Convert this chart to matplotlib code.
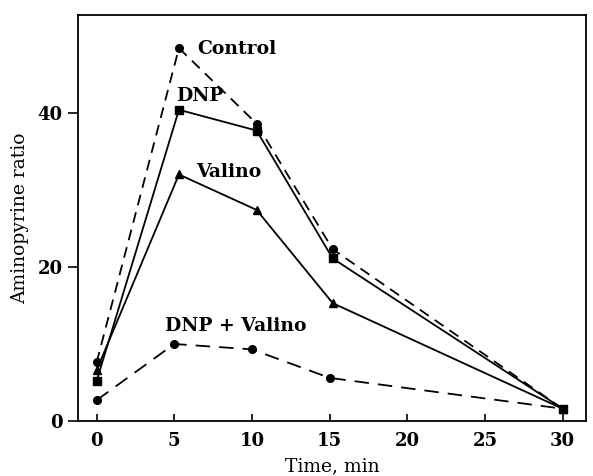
import matplotlib
matplotlib.use("Agg")
import matplotlib.pyplot as plt

# time points (min)
t_top = [0, 5.3, 10.3, 15.2, 30]
t_low = [0, 5, 10, 15, 30]

control = [7.6, 48.4, 38.6, 22.3, 1.6]
dnp = [5.2, 40.4, 37.7, 21.1, 1.6]
valino = [6.6, 32.0, 27.4, 15.3, 1.6]
dnp_valino = [2.7, 10.0, 9.3, 5.6, 1.6]

plt.rcParams['font.family'] = 'DejaVu Serif'

fig = plt.figure(figsize=(5.93, 4.76), dpi=100)
ax = fig.add_axes([0.1315, 0.1155, 0.8565, 0.853])

ax.plot(t_top, control, color='black', lw=1.3, ls=(0, (6, 4)),
        marker='o', ms=5.5)
ax.plot(t_top, dnp, color='black', lw=1.3, marker='s', ms=5.5)
ax.plot(t_top, valino, color='black', lw=1.3, marker='^', ms=5.5)
ax.plot(t_low, dnp_valino, color='black', lw=1.3, ls=(0, (8, 5)),
        marker='o', ms=5.5)

ax.text(6.45, 48.3, 'Control', fontsize=13.5, fontweight='bold', va='center')
ax.text(5.1, 42.2, 'DNP', fontsize=13.5, fontweight='bold', va='center')
ax.text(6.39, 32.3, 'Valino', fontsize=13.5, fontweight='bold', va='center')
ax.text(4.39, 12.3, 'DNP + Valino', fontsize=13.5, fontweight='bold',
        va='center')

ax.set_xlim(-1.2, 31.5)
ax.set_ylim(0, 52.7)
ax.set_xticks([0, 5, 10, 15, 20, 25, 30])
ax.set_yticks([0, 20, 40])
ax.tick_params(axis='x', direction='in', length=5, width=1.2, pad=8,
               labelsize=13)
ax.tick_params(axis='y', direction='out', length=7, width=1.2, pad=4,
               labelsize=13)
for lab in ax.get_xticklabels() + ax.get_yticklabels():
    lab.set_fontweight('bold')
for s in ax.spines.values():
    s.set_linewidth(1.3)

ax.set_xlabel('Time, min', fontsize=13.5, labelpad=5)
ax.set_ylabel('Aminopyrine ratio', fontsize=13.5, labelpad=6)

fig.savefig('out.png', dpi=100)
